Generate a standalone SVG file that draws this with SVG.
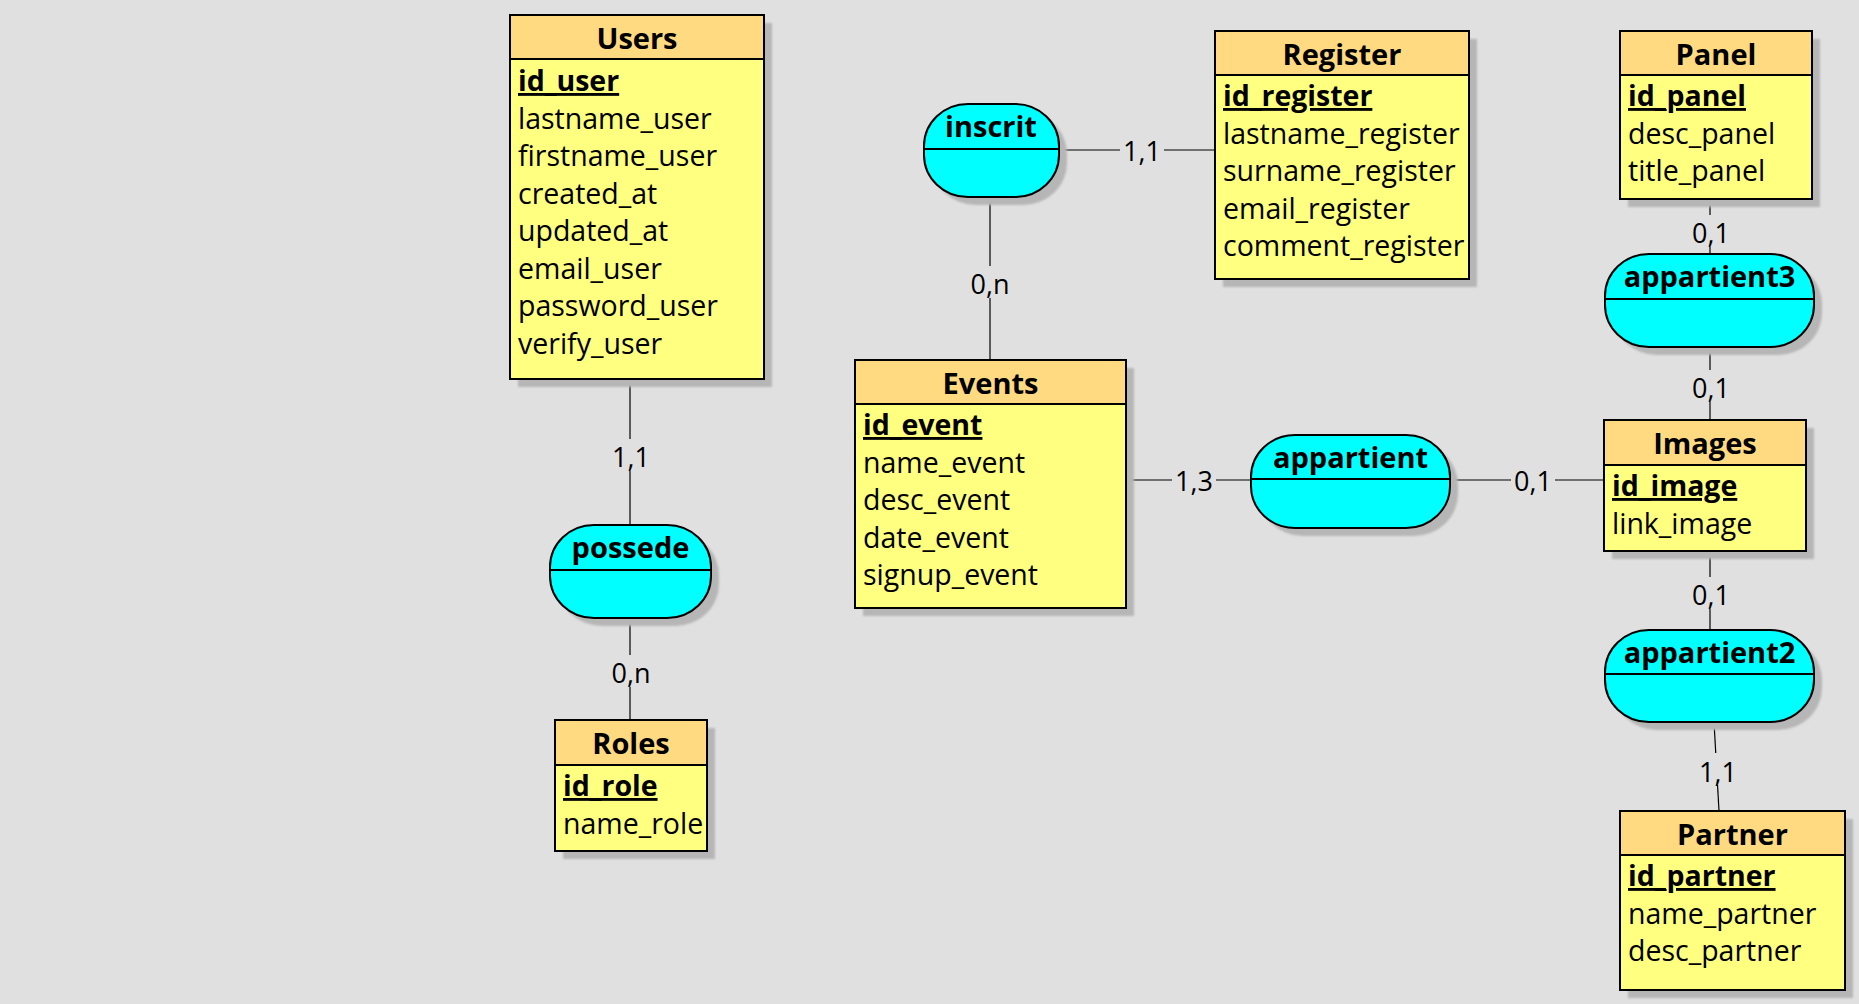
<svg xmlns="http://www.w3.org/2000/svg" width="1859" height="1004" viewBox="0 0 1859 1004">
<defs>
<filter id="sh" x="-10%" y="-10%" width="130%" height="130%"><feGaussianBlur stdDeviation="1.2"/></filter>
</defs>
<style>
.bg{fill:#e0e0e0}
.shadow{fill:#b6b6b6;filter:url(#sh)}
.hdr{fill:#ffda80;stroke:#000;stroke-width:2}
.body{fill:#ffff80;stroke:#000;stroke-width:2}
.assoc{fill:#00ffff;stroke:#000;stroke-width:2}
.div{stroke:#000;stroke-width:2}
.title{font-family:"Open Sans","Noto Sans",sans-serif;font-weight:bold;font-size:29px;text-anchor:middle;fill:#000}
.attr{font-family:"Open Sans","Noto Sans",sans-serif;font-size:28.5px;fill:#000}
.key{font-weight:bold;text-decoration:underline}
.conn line{stroke:#000;stroke-width:1.2}
.gap{fill:#e0e0e0}
.card{font-family:"Open Sans","Noto Sans",sans-serif;font-size:27px;text-anchor:middle;fill:#000}
</style>
<rect class="bg" x="0" y="0" width="1859" height="1004"/>

<g id="connectors" class="conn">
<line x1="630" y1="379" x2="630" y2="525"/>
<line x1="630" y1="618" x2="630" y2="720"/>
<line x1="1059" y1="150" x2="1215" y2="150"/>
<line x1="990" y1="197" x2="990" y2="360"/>
<line x1="1126" y1="480" x2="1251" y2="480"/>
<line x1="1450" y1="480" x2="1604" y2="480"/>
<line x1="1710" y1="199" x2="1710" y2="254"/>
<line x1="1710" y1="347" x2="1710" y2="420"/>
<line x1="1710" y1="551" x2="1710" y2="630"/>
<line x1="1714" y1="722" x2="1719" y2="811"/>
<rect class="gap" x="609" y="439" width="44" height="32"/>
<rect class="gap" x="609" y="655" width="44" height="32"/>
<rect class="gap" x="1120" y="133" width="44" height="32"/>
<rect class="gap" x="968" y="266" width="44" height="32"/>
<rect class="gap" x="1172" y="463" width="44" height="32"/>
<rect class="gap" x="1511" y="463" width="44" height="32"/>
<rect class="gap" x="1689" y="215" width="44" height="32"/>
<rect class="gap" x="1689" y="370" width="44" height="32"/>
<rect class="gap" x="1689" y="577" width="44" height="32"/>
<rect class="gap" x="1696" y="753" width="44" height="32"/>
<text class="card" x="631" y="467">1,1</text>
<text class="card" x="631" y="683">0,n</text>
<text class="card" x="1142" y="161">1,1</text>
<text class="card" x="990" y="294">0,n</text>
<text class="card" x="1194" y="491">1,3</text>
<text class="card" x="1533" y="491">0,1</text>
<text class="card" x="1711" y="243">0,1</text>
<text class="card" x="1711" y="398">0,1</text>
<text class="card" x="1711" y="605">0,1</text>
<text class="card" x="1718" y="782">1,1</text>
</g>

<g id="Users">
<rect class="shadow" x="518" y="23" width="254" height="364"/>
<rect class="body" x="510" y="15" width="254" height="364"/>
<rect class="hdr" x="510" y="15" width="254" height="44"/>
<text class="title" x="637" y="49">Users</text>
<text class="attr"><tspan class="key" x="518" y="91">id_user</tspan><tspan x="518" y="128.5">lastname_user</tspan><tspan x="518" y="166">firstname_user</tspan><tspan x="518" y="203.5">created_at</tspan><tspan x="518" y="241">updated_at</tspan><tspan x="518" y="278.5">email_user</tspan><tspan x="518" y="316">password_user</tspan><tspan x="518" y="353.5">verify_user</tspan></text>
</g>

<g id="Register">
<rect class="shadow" x="1223" y="39" width="254" height="248"/>
<rect class="body" x="1215" y="31" width="254" height="248"/>
<rect class="hdr" x="1215" y="31" width="254" height="44"/>
<text class="title" x="1342" y="65">Register</text>
<text class="attr"><tspan class="key" x="1223" y="106">id_register</tspan><tspan x="1223" y="143.5">lastname_register</tspan><tspan x="1223" y="181">surname_register</tspan><tspan x="1223" y="218.5">email_register</tspan><tspan x="1223" y="256">comment_register</tspan></text>
</g>

<g id="Events">
<rect class="shadow" x="863" y="368" width="271" height="248"/>
<rect class="body" x="855" y="360" width="271" height="248"/>
<rect class="hdr" x="855" y="360" width="271" height="44"/>
<text class="title" x="990.5" y="394">Events</text>
<text class="attr"><tspan class="key" x="863" y="435">id_event</tspan><tspan x="863" y="472.5">name_event</tspan><tspan x="863" y="510">desc_event</tspan><tspan x="863" y="547.5">date_event</tspan><tspan x="863" y="585">signup_event</tspan></text>
</g>

<g id="Panel">
<rect class="shadow" x="1628" y="39" width="192" height="168"/>
<rect class="body" x="1620" y="31" width="192" height="168"/>
<rect class="hdr" x="1620" y="31" width="192" height="44"/>
<text class="title" x="1716" y="65">Panel</text>
<text class="attr"><tspan class="key" x="1628" y="106">id_panel</tspan><tspan x="1628" y="143.5">desc_panel</tspan><tspan x="1628" y="181">title_panel</tspan></text>
</g>

<g id="Images">
<rect class="shadow" x="1612" y="428" width="202" height="131"/>
<rect class="body" x="1604" y="420" width="202" height="131"/>
<rect class="hdr" x="1604" y="420" width="202" height="45"/>
<text class="title" x="1705" y="454">Images</text>
<text class="attr"><tspan class="key" x="1612" y="496">id_image</tspan><tspan x="1612" y="533.5">link_image</tspan></text>
</g>

<g id="Partner">
<rect class="shadow" x="1628" y="819" width="225" height="179"/>
<rect class="body" x="1620" y="811" width="225" height="179"/>
<rect class="hdr" x="1620" y="811" width="225" height="44"/>
<text class="title" x="1732.5" y="845">Partner</text>
<text class="attr"><tspan class="key" x="1628" y="886">id_partner</tspan><tspan x="1628" y="923.5">name_partner</tspan><tspan x="1628" y="961">desc_partner</tspan></text>
</g>

<g id="Roles">
<rect class="shadow" x="563" y="728" width="152" height="131"/>
<rect class="body" x="555" y="720" width="152" height="131"/>
<rect class="hdr" x="555" y="720" width="152" height="45"/>
<text class="title" x="631" y="754">Roles</text>
<text class="attr"><tspan class="key" x="563" y="796">id_role</tspan><tspan x="563" y="833.5">name_role</tspan></text>
</g>

<g id="inscrit">
<rect class="shadow" x="932" y="112" width="135" height="93" rx="44" ry="42"/>
<rect class="assoc" x="924" y="104" width="135" height="93" rx="44" ry="42"/>
<line class="div" x1="924" y1="149" x2="1059" y2="149"/>
<text class="title" x="991" y="137">inscrit</text>
</g>

<g id="possede">
<rect class="shadow" x="558" y="533" width="161" height="93" rx="44" ry="42"/>
<rect class="assoc" x="550" y="525" width="161" height="93" rx="44" ry="42"/>
<line class="div" x1="550" y1="570" x2="711" y2="570"/>
<text class="title" x="630.5" y="558">possede</text>
</g>

<g id="appartient">
<rect class="shadow" x="1259" y="443" width="199" height="93" rx="44" ry="42"/>
<rect class="assoc" x="1251" y="435" width="199" height="93" rx="44" ry="42"/>
<line class="div" x1="1251" y1="479" x2="1450" y2="479"/>
<text class="title" x="1350.5" y="468">appartient</text>
</g>

<g id="appartient3">
<rect class="shadow" x="1613" y="262" width="209" height="93" rx="44" ry="42"/>
<rect class="assoc" x="1605" y="254" width="209" height="93" rx="44" ry="42"/>
<line class="div" x1="1605" y1="299" x2="1814" y2="299"/>
<text class="title" x="1709.5" y="287">appartient3</text>
</g>

<g id="appartient2">
<rect class="shadow" x="1613" y="638" width="209" height="92" rx="44" ry="42"/>
<rect class="assoc" x="1605" y="630" width="209" height="92" rx="44" ry="42"/>
<line class="div" x1="1605" y1="674" x2="1814" y2="674"/>
<text class="title" x="1709.5" y="663">appartient2</text>
</g>
</svg>
